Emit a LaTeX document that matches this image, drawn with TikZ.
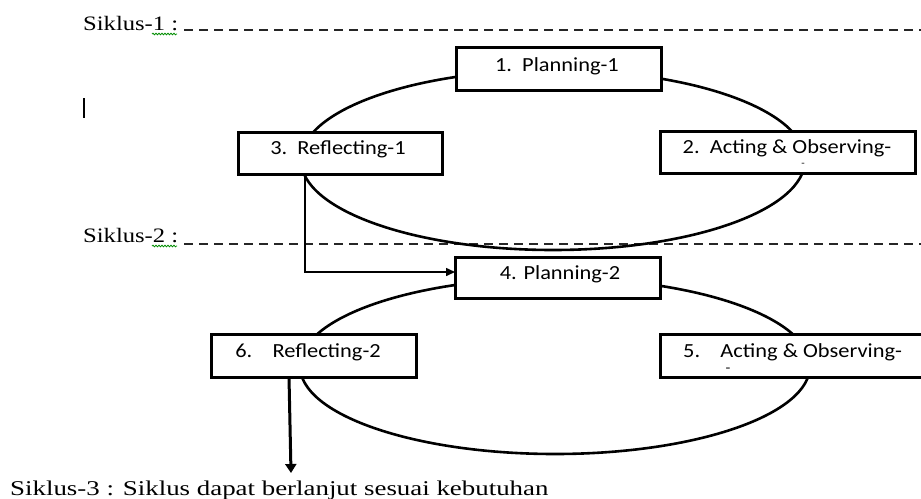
\documentclass[tikz,border=0pt]{standalone}
\usepackage{fontspec}
\setmainfont{Carlito}
\newfontfamily\boxfont[FakeStretch=1.12]{Carlito}
\newfontfamily\serf[FakeStretch=1.2]{Liberation Serif}
\newfontfamily\serfwide[FakeStretch=1.28]{Liberation Serif}
\usetikzlibrary{arrows.meta,decorations.pathmorphing}
\tikzset{
  box/.style={draw=black,line width=3pt,fill=white,inner sep=0pt,outer sep=0pt,anchor=north west},
  lbl/.style={font=\boxfont\fontsize{20}{22}\selectfont,anchor=base,inner sep=0pt},
  tiny/.style={font=\boxfont\fontsize{10}{12}\selectfont,anchor=base,inner sep=0pt},
  cyc/.style={font=\serf\fontsize{20.5}{22}\selectfont,anchor=base west,inner sep=0pt},
  ring/.style={draw=black,line width=2.6pt},
  sep/.style={draw=black!85,line width=2pt,dash pattern=on 9pt off 6pt},
  squig/.style={draw=green!55!black,line width=0.8pt,decorate,decoration={snake,amplitude=0.8pt,segment length=3pt}},
  thinarrow/.style={draw=black,line width=1.5pt,-{Triangle[length=9pt,width=8pt]}},
  thickarrow/.style={draw=black,line width=3pt,-{Triangle[length=9pt,width=11pt]}}
}
\begin{document}
\begin{tikzpicture}[x=1pt,y=-1pt]
\useasboundingbox (0,0) rectangle (921,498);
\clip (0,0) rectangle (921,498);
% cycle labels and separators
\node[cyc] (s1) at (83,30) {Siklus-1 :};
\coordinate (d1a) at (184,30);
\coordinate (d1b) at (921,30);
\draw[sep] (d1a) -- (d1b);
\coordinate (q1a) at (152,34);
\coordinate (q1b) at (177,34);
\draw[squig] (q1a) -- (q1b);
\node[cyc] (s2) at (83,242) {Siklus-2 :};
\coordinate (d2a) at (184,243.5);
\coordinate (d2b) at (921,243.5);
\draw[sep] (d2a) -- (d2b);
\coordinate (q2a) at (152,246);
\coordinate (q2b) at (177,246);
\draw[squig] (q2a) -- (q2b);
% cursor
\coordinate (cur1) at (84,98);
\coordinate (cur2) at (84,118);
\draw[line width=2pt] (cur1) -- (cur2);
% ellipses
\draw[ring] (553,160) ellipse [x radius=252, y radius=90];
\draw[ring] (555,366) ellipse [x radius=255, y radius=88];
% boxes cycle 1
\node[box,minimum width=205pt,minimum height=43pt] (b1) at (456,47) {};
\node[lbl] (t1) at (557,71) {1.\ \ Planning-1};
\node[box,minimum width=204pt,minimum height=42pt] (b3) at (238,132) {};
\node[lbl] (t3) at (338,154) {3.\ \ Reflecting-1};
\node[box,minimum width=255pt,minimum height=42pt] (b2) at (660,131) {};
\node[lbl] (t2) at (787,153) {2.\ \ Acting \& Observing-};
\node[tiny] (t2b) at (803,166) {-};
% boxes cycle 2
\node[box,minimum width=205pt,minimum height=41pt] (b4) at (455,257) {};
\node[lbl] (t4) at (560,279) {4. Planning-2};
\node[box,minimum width=205pt,minimum height=43pt] (b6) at (211,334) {};
\node[lbl] (t6) at (308,357) {6.\ \ \ \ Reflecting-2};
\node[box,minimum width=280pt,minimum height=43pt] (b5) at (660,334) {};
\node[lbl,anchor=base west] (t5) at (683,357) {5.\ \ \ \ Acting \& Observing-};
\node[tiny,font=\boxfont\fontsize{14}{16}\selectfont] (t5b) at (728,372) {-};
% arrows
\draw[thinarrow] ([xshift=67pt]b3.south west) |- ([yshift=5.5pt]b4.west);
\coordinate (end2) at (291,473);
\draw[thickarrow] ([xshift=78pt]b6.south west) -- (end2);
% bottom text
\node[cyc,font=\serfwide\fontsize{21}{23}\selectfont] (s3) at (10,495) {Siklus-3 : Siklus dapat berlanjut sesuai kebutuhan};
\end{tikzpicture}
\end{document}
